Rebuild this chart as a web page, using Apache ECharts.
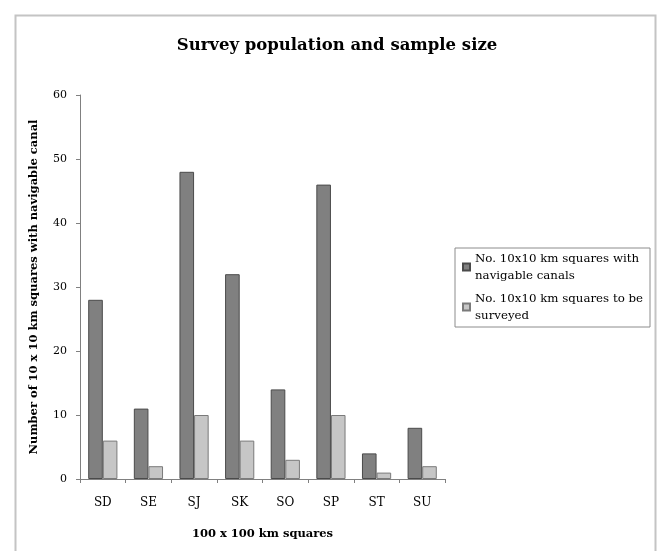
<!DOCTYPE html>
<html>
<head>
<meta charset="utf-8">
<script src="https://cdn.jsdelivr.net/npm/echarts@6/dist/echarts.min.js"></script>
<style>html,body{margin:0;padding:0;background:#fff;}#c{width:657px;height:551px;}</style>
</head>
<body>
<div id="c"></div>
<script>
var categories = ['SD','SE','SJ','SK','SO','SP','ST','SU'];
var seriesNames = ['No. 10x10 km squares with navigable canals', 'No. 10x10 km squares to be surveyed'];
var withCanals = [28, 11, 48, 32, 14, 46, 4, 8];
var toSurvey = [6, 2, 10, 6, 3, 10, 1, 2];
var yTicks = [0, 10, 20, 30, 40, 50, 60];

var serif = '"DejaVu Serif", "Liberation Serif", serif';
var chart = echarts.init(document.getElementById('c'), null, {renderer: 'canvas'});
chart.setOption({
  backgroundColor: '#ffffff',
  animation: false,
  graphic: [{
    type: 'rect', left: 13, top: 13, shape: {width: 640, height: 560},
    style: {fill: 'none', stroke: '#c4c4c4', lineWidth: 2}, silent: true
  }],
  title: {
    text: 'Survey population and sample size',
    left: 332, top: 32, textAlign: 'center',
    textStyle: {fontFamily: serif, fontWeight: 'bold', fontSize: 16.5, color: '#000'}
  },
  legend: {
    orient: 'vertical', left: 455, top: 248,
    borderColor: '#8c8c8c', borderWidth: 1, padding: [2, 7, 3, 7],
    icon: 'rect', itemWidth: 7, itemHeight: 7, itemGap: 6,
    textStyle: {fontFamily: serif, fontSize: 11.8, color: '#000', lineHeight: 17},
    formatter: function (n) {
      if (n === seriesNames[0]) return 'No. 10x10 km squares with\nnavigable canals';
      return 'No. 10x10 km squares to be\nsurveyed';
    },
    data: seriesNames
  },
  grid: {left: 80, right: 212, top: 95, bottom: 72, containLabel: false},
  xAxis: {
    type: 'category', data: categories,
    name: '100 x 100 km squares', nameLocation: 'middle', nameGap: 49,
    nameTextStyle: {fontFamily: serif, fontWeight: 'bold', fontSize: 11.5, color: '#000'},
    axisLine: {lineStyle: {color: '#808080', width: 1}},
    axisTick: {show: true, alignWithLabel: false, length: 4, lineStyle: {color: '#808080'}},
    axisLabel: {fontFamily: serif, fontSize: 12, color: '#000', margin: 18}
  },
  yAxis: {
    type: 'value', min: 0, max: 60, interval: 10,
    name: 'Number of 10 x 10 km squares with navigable canal',
    nameLocation: 'middle', nameGap: 40,
    nameTextStyle: {fontFamily: serif, fontWeight: 'bold', fontSize: 11.5, color: '#000'},
    axisLine: {show: true, lineStyle: {color: '#808080', width: 1}},
    axisTick: {show: true, length: 4, lineStyle: {color: '#808080'}},
    splitLine: {show: false},
    axisLabel: {fontFamily: serif, fontSize: 11, color: '#000', margin: 13,
      formatter: function (v) { return yTicks.indexOf(v) >= 0 ? String(v) : ''; }}
  },
  series: [
    {name: seriesNames[0], type: 'bar', data: withCanals, barGap: '0%', barCategoryGap: '36%',
     itemStyle: {color: '#808080', borderColor: '#4a4a4a', borderWidth: 1}},
    {name: seriesNames[1], type: 'bar', data: toSurvey, barGap: '0%', barCategoryGap: '36%',
     itemStyle: {color: '#c6c6c6', borderColor: '#7a7a7a', borderWidth: 1}}
  ]
});
</script>
</body>
</html>
